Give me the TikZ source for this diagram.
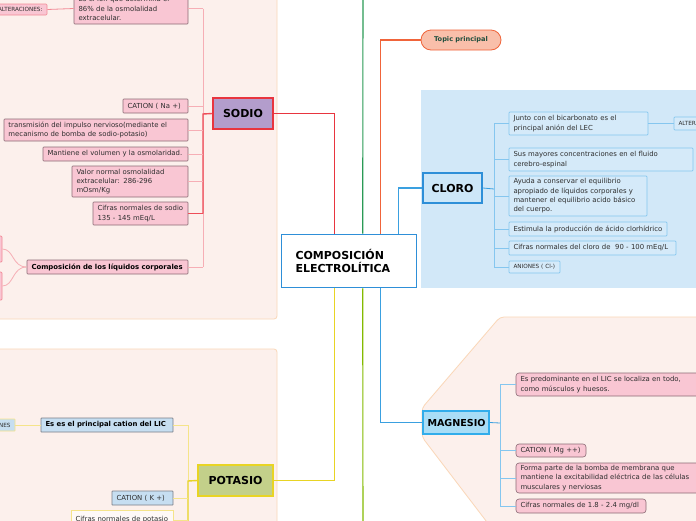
\documentclass[tikz,border=0pt]{standalone}
\usepackage{fontspec}
\setmainfont{DejaVu Sans}
\definecolor{bgpink}{HTML}{FCF0EC}
\definecolor{bgborder}{HTML}{FAD7B8}
\definecolor{clorobg}{HTML}{D2E8F8}
\definecolor{sfill}{HTML}{F9C6D3}
\definecolor{sborder}{HTML}{8B6B75}
\definecolor{spale}{HTML}{F6AEB5}
\definecolor{sred}{HTML}{EE4D58}
\definecolor{mainred}{HTML}{E8353F}
\definecolor{orangeb}{HTML}{F0643A}
\definecolor{blueb}{HTML}{3AA0E0}
\definecolor{mainblue}{HTML}{2E8FD8}
\definecolor{yellowb}{HTML}{E8D424}
\definecolor{ypale}{HTML}{F5E48A}
\definecolor{greent}{HTML}{2A9A55}
\definecolor{limeb}{HTML}{84BA00}
\definecolor{cfill}{HTML}{D5EAF9}
\definecolor{cborder}{HTML}{85C6EF}
\definecolor{pfill}{HTML}{C6DEF1}
\definecolor{pborder}{HTML}{7A7E86}
\definecolor{txt}{HTML}{2E2E2E}
\definecolor{sodiofill}{HTML}{B39DCC}
\definecolor{potfill}{HTML}{C3D08A}
\definecolor{clorofill}{HTML}{CDE7F8}
\definecolor{magfill}{HTML}{A9DDF6}
\definecolor{magborder}{HTML}{32ADEB}
\definecolor{topicfill}{HTML}{F9BFAA}
\definecolor{topictext}{HTML}{1F4E3D}
\definecolor{altborder}{HTML}{F28A96}
\newcommand\bx[7]{%
  \pgfmathsetmacro\bxw{(#5)-(#3)}%
  \pgfmathsetmacro\bxh{(#6)-(#4)}%
  \pgfmathsetmacro\bxt{(#5)-(#3)-9}%
  \pgfmathsetmacro\bxcx{((#3)+(#5))/2}%
  \pgfmathsetmacro\bxcy{((#4)+(#6))/2}%
  \node[minimum width=\bxw pt, minimum height=\bxh pt, text width=\bxt pt, #1] (#2) at (\bxcx,\bxcy) {#7};}
\tikzset{
  lab/.style={font=\fontsize{6.9}{9.3}\selectfont, text=txt, align=left, inner xsep=4.5pt, inner ysep=0pt},
  tiny/.style={font=\fontsize{5.7}{7}\selectfont},
  boldlab/.style={font=\bfseries\fontsize{6.9}{9}\selectfont, text=black},
  sch/.style={lab, fill=sfill, draw=sborder, line width=0.6pt, rounded corners=0.8pt},
  mch/.style={sch, rounded corners=3pt},
  cch/.style={lab, fill=cfill, draw=cborder, line width=0.7pt, rounded corners=0.8pt},
  pch/.style={lab, fill=pfill, draw=pborder, line width=0.7pt, rounded corners=0.5pt},
  alt/.style={lab, tiny, fill=sfill, draw=altborder, line width=0.7pt, rounded corners=1pt, align=right},
  head/.style={align=center, inner sep=0pt, text=black, font=\bfseries\fontsize{11}{13}\selectfont},
  mainbox/.style={draw=mainblue, line width=1.6pt, fill=white, minimum width=135pt, minimum height=53pt, text width=107pt, inner xsep=14pt, align=left, font=\bfseries\fontsize{11}{13}\selectfont},
  branch/.style={line width=1.4pt},
  thin/.style={line width=0.8pt}
}
\begin{document}
\begin{tikzpicture}[x=1pt,y=-1pt]
\useasboundingbox (0,0) rectangle (696,520);
\clip (0,0) rectangle (696,520);
\fill[white] (0,0) rectangle (696,520);
% background regions
\filldraw[fill=bgpink, draw=bgborder, line width=0.8pt, rounded corners=3pt] (-20,-20) rectangle (277,319);
\filldraw[fill=bgpink, draw=bgborder, line width=0.8pt, rounded corners=3pt] (-20,349) rectangle (277,560);
\fill[clorobg] (421,90) rectangle (710,288);
\filldraw[fill=bgpink, draw=bgborder, line width=0.8pt, rounded corners=4pt] (720,317) -- (500,317) -- (422,408) -- (422,437) -- (493,530) -- (720,530) -- cycle;

% main node (placed first for naming)
\node[mainbox] (c) at (349,261) {COMPOSICIÓN\\ELECTROLÍTICA};

% headers
\bx{head, fill=sodiofill, draw=mainred, line width=1.8pt}{sodio}{213}{98}{273}{129}{SODIO}
\bx{head, fill=potfill, draw=yellowb, line width=1.8pt}{potasio}{198}{465}{273}{496}{POTASIO}
\bx{head, fill=clorofill, draw=mainblue, line width=1.8pt}{cloro}{423}{173}{482}{203}{CLORO}
\bx{head, fill=magfill, draw=magborder, line width=1.4pt, font=\bfseries\fontsize{9.6}{11}\selectfont}{magnesio}{423}{411}{489}{434}{MAGNESIO}
\bx{head, fill=topicfill, draw=orangeb, line width=0.8pt, rounded corners=10pt, text=topictext, font=\bfseries\fontsize{6.6}{8}\selectfont}{topic}{421}{30}{501}{50}{Topic principal}

% main branches
\coordinate (gtop) at (363,-5);
\coordinate (gbot) at (363,530);
\draw[greent, line width=1.1pt] ([xshift=82pt]c.north west) -- (gtop);
\draw[limeb, line width=1.1pt] ([xshift=82pt]c.south west) -- (gbot);
\draw[mainred, branch] ([xshift=54pt]c.north west) |- (sodio.east);
\draw[orangeb, branch] ([xshift=100pt]c.north west) |- (topic.west);
\draw[blueb, branch] ([xshift=118pt]c.north west) |- (cloro.west);
\draw[yellowb, branch] ([xshift=54pt]c.south west) |- (potasio.east);
\draw[blueb, branch] ([xshift=100pt]c.south west) |- (magnesio.west);
\node[mainbox] at (c) {COMPOSICIÓN\\ELECTROLÍTICA};

% ---------- SODIO ----------
\bx{sch}{s1}{74}{-7}{188}{24}{Es el ion que determina el\\86\% de la osmolalidad\\extracelular.}
\bx{sch}{s2}{123}{99}{188}{113}{CATION ( Na +)}
\bx{sch}{s3}{4}{119}{188}{141}{transmisión del impulso nervioso(mediante el\\mecanismo de bomba de sodio-potasio)}
\bx{sch}{s4}{43}{147}{188}{161}{Mantiene el volumen y la osmolaridad.}
\bx{sch}{s5}{72}{166}{188}{197}{Valor normal osmolalidad\\extracelular: 286-296\\mOsm/Kg}
\bx{sch}{s6}{93}{202}{188}{225}{Cifras normales de sodio\\135 - 145 mEq/L}
\bx{sch, boldlab}{s7}{27}{260}{188}{274}{Composición de los líquidos corporales}
\bx{alt}{s8}{-20}{4}{47}{15}{ALTERACIONES:}
\bx{alt}{s9}{-30}{236}{2}{262}{}
\bx{alt}{s10}{-30}{272}{2}{300}{}
\coordinate (sb) at (203,114);
\draw[spale, thin] (sb |- s1.east) -- (sb |- s7.east);
\draw[sred, branch] (sodio.west) -- (sb) -- (sb |- s6.east);
\foreach \k in {s1,s2,s3,s4,s5,s7} \draw[spale, thin] (\k.east) -- (\k.east -| sb);
\draw[sred, thin] (s6.east) -- (s6.east -| sb);
\draw[altborder, thin] (s1.west) -- (s8.east);
\draw[spale, thin] (s7.west) .. controls (12,267) and (14,249) .. (s9.east);
\draw[spale, thin] (s7.west) .. controls (12,267) and (14,286) .. (s10.east);

% ---------- POTASIO ----------
\bx{pch, boldlab}{p1}{41}{418}{173}{432}{Es es el principal cation del LIC}
\bx{pch, tiny, draw=ypale, align=right}{p2}{-40}{419}{15}{431}{ALTERACIONES}
\bx{pch}{p3}{112}{491}{173}{505}{CATION ( K +)}
\bx{lab, fill=white!60!bgpink, draw=ypale, line width=0.8pt}{p4}{71}{510}{173}{530}{Cifras normales de potasio}
\coordinate (pb) at (188,481);
\draw[ypale, thin] (pb |- p1.east) -- (pb);
\draw[yellowb, branch] (potasio.west) -- (pb) -- (188,530);
\foreach \k in {p1,p3,p4} \draw[ypale, thin] (\k.east) -- (\k.east -| pb);
\draw[ypale, thin] (p1.west) -- (p2.east);

% ---------- CLORO ----------
\bx{cch}{c1}{509}{112}{648}{135}{Junto con el bicarbonato es el\\principal anión del LEC}
\bx{cch}{c2}{509}{148}{693}{171}{Sus mayores concentraciones en el fluido\\cerebro-espinal}
\bx{cch}{c3}{509}{176}{647}{216}{Ayuda a conservar el equilibrio\\apropiado de líquidos corporales y\\mantener el equilibrio acido básico\\del cuerpo.}
\bx{cch}{c4}{509}{222}{667}{236}{Estimula la producción de ácido clorhídrico}
\bx{cch}{c5}{509}{241}{676}{255}{Cifras normales del cloro de\ \ 90 - 100 mEq/L}
\bx{cch, tiny}{c6}{509}{261}{560}{273}{ANIONES ( Cl-)}
\bx{cch, tiny}{c7}{674}{117}{730}{130}{ALTERACIONES}
\coordinate (cb) at (494,189);
\draw[cborder, thin] (cb |- c1.west) -- (cb |- c6.west);
\draw[blueb, thin] (cloro.east) -- (cb);
\foreach \k in {c1,c2,c3,c4,c5,c6} \draw[cborder, thin] (\k.west) -- (\k.west -| cb);
\draw[cborder, thin] (c1.east) -- (c7.west);

% ---------- MAGNESIO ----------
\bx{mch}{m1}{516}{373}{705}{396}{Es predominante en el LIC se localiza en todo,\\como músculos y huesos.}
\bx{mch}{m2}{516}{444}{586}{457}{CATION ( Mg ++)}
\bx{mch}{m3}{516}{463}{705}{493}{Forma parte de la bomba de membrana que\\mantiene la excitabilidad eléctrica de las células\\musculares y nerviosas}
\bx{mch}{m4}{516}{499}{646}{513}{Cifras normales de 1.8 - 2.4 mg/dl}
\coordinate (mb) at (500,423);
\draw[cborder, thin] (mb |- m1.west) -- (mb |- m4.west);
\draw[blueb, thin] (magnesio.east) -- (mb);
\foreach \k in {m1,m2,m3,m4} \draw[cborder, thin] (\k.west) -- (\k.west -| mb);
\end{tikzpicture}
\end{document}
